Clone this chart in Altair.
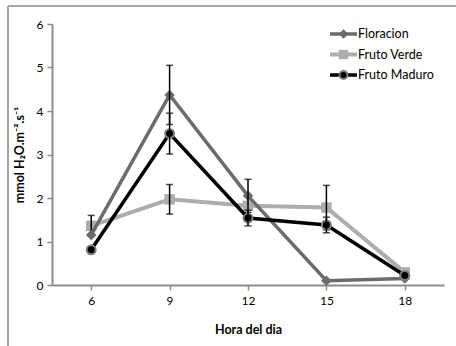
import altair as alt
import pandas as pd

# Transpiration rate by hour of the day for three phenological stages
hours = [6, 9, 12, 15, 18]
series = ["Floracion", "Fruto Verde", "Fruto Maduro"]
floracion = [1.15, 4.37, 2.05, 0.10, 0.15]
fruto_verde = [1.36, 1.97, 1.82, 1.78, 0.29]
fruto_maduro = [0.81, 3.48, 1.54, 1.38, 0.22]
err_floracion = [0.0, 0.68, 0.38, 0.0, 0.0]
err_verde = [0.24, 0.34, 0.0, 0.51, 0.0]
err_maduro = [0.0, 0.47, 0.18, 0.18, 0.0]
y_ticks = [0, 1, 2, 3, 4, 5, 6]

values = {"Floracion": floracion, "Fruto Verde": fruto_verde, "Fruto Maduro": fruto_maduro}
errors = {"Floracion": err_floracion, "Fruto Verde": err_verde, "Fruto Maduro": err_maduro}

style = {
    "Floracion": dict(line="#6b6b6b", width=3.5, shape="diamond", size=110,
                      fill="#6b6b6b", stroke="#6b6b6b", sw=0),
    "Fruto Verde": dict(line="#adadad", width=4, shape="square", size=110,
                        fill="#adadad", stroke="#adadad", sw=0),
    "Fruto Maduro": dict(line="#000000", width=3.5, shape="circle", size=80,
                         fill="#000000", stroke="#7f7f7f", sw=2),
}

FONT = "Lato"

x_enc = alt.X("hour:Q",
              scale=alt.Scale(domain=[4.5, 19.5], nice=False, zero=False),
              axis=alt.Axis(values=hours, title="Hora del dia", grid=False,
                            labelPadding=5, titlePadding=17))
y_enc = alt.Y("value:Q",
              scale=alt.Scale(domain=[0, 6], nice=False),
              axis=alt.Axis(values=y_ticks, title="mmol H₂O.m⁻².s⁻¹", grid=False,
                            labelPadding=4, titlePadding=10))

draw_order = ["Fruto Verde", "Floracion", "Fruto Maduro"]
layers = []
for name in draw_order:
    st = style[name]
    df = pd.DataFrame({
        "hour": hours,
        "value": values[name],
        "err": errors[name],
        "serie": name,
    })
    df["lo"] = df["value"] - df["err"]
    df["hi"] = df["value"] + df["err"]
    base = alt.Chart(df)
    layers.append(base.mark_line(color=st["line"], strokeWidth=st["width"])
                  .encode(x=x_enc, y=y_enc))
    layers.append(base.mark_point(shape=st["shape"], size=st["size"], filled=True,
                                  fill=st["fill"], stroke=st["stroke"],
                                  strokeWidth=st["sw"], opacity=1)
                  .encode(x=x_enc, y=y_enc))
    eb = base.transform_filter("datum.err > 0")
    layers.append(eb.mark_rule(color="black", strokeWidth=1.5)
                  .encode(x=x_enc, y=alt.Y("lo:Q"), y2="hi:Q"))
    layers.append(eb.mark_tick(orient="horizontal", color="black", size=7, thickness=1.5)
                  .encode(x=x_enc, y=alt.Y("hi:Q")))
    layers.append(eb.mark_tick(orient="horizontal", color="black", size=7, thickness=1.5)
                  .encode(x=x_enc, y=alt.Y("lo:Q")))

# Hand-built legend in the upper right of the plot area
one = alt.Data(values=[{}])
for i, name in enumerate(series):
    st = style[name]
    ly = 10 + 20.5 * i
    layers.append(alt.Chart(one).mark_rule(color=st["line"], strokeWidth=st["width"])
                  .encode(x=alt.value(278), x2=alt.value(305), y=alt.value(ly)))
    layers.append(alt.Chart(one).mark_point(shape=st["shape"], size=st["size"] * 0.8,
                                            filled=True, fill=st["fill"], stroke=st["stroke"],
                                            strokeWidth=st["sw"], opacity=1)
                  .encode(x=alt.value(291.5), y=alt.value(ly)))
    layers.append(alt.Chart(one).mark_text(text=name, align="left", baseline="middle",
                                           font=FONT, fontSize=12.5, color="black")
                  .encode(x=alt.value(306), y=alt.value(ly)))

# Outer frame (top and left edges)
layers.append(alt.Chart(one).mark_rule(color="#a6a6a6", strokeWidth=2)
              .encode(x=alt.value(-44), x2=alt.value(410), y=alt.value(-18)))
layers.append(alt.Chart(one).mark_rule(color="#a6a6a6", strokeWidth=2)
              .encode(x=alt.value(-44), y=alt.value(-18), y2=alt.value(330)))

chart = alt.layer(*layers).properties(
    width=392,
    height=261,
    autosize=alt.AutoSizeParams(type="none"),
    padding={"left": 52, "top": 24, "right": 12, "bottom": 61},
    background="white",
).configure_view(stroke=None).configure_axis(
    domainColor="#8c8c8c",
    domainWidth=2,
    tickColor="#8c8c8c",
    tickWidth=1.5,
    tickSize=5,
    labelFont=FONT,
    labelFontSize=12,
    labelColor="black",
    titleFont=FONT,
    titleFontSize=12.5,
    titleFontWeight="bold",
    titleColor="black",
)

chart.save("out.html", embed_options={"renderer": "svg", "actions": False})
